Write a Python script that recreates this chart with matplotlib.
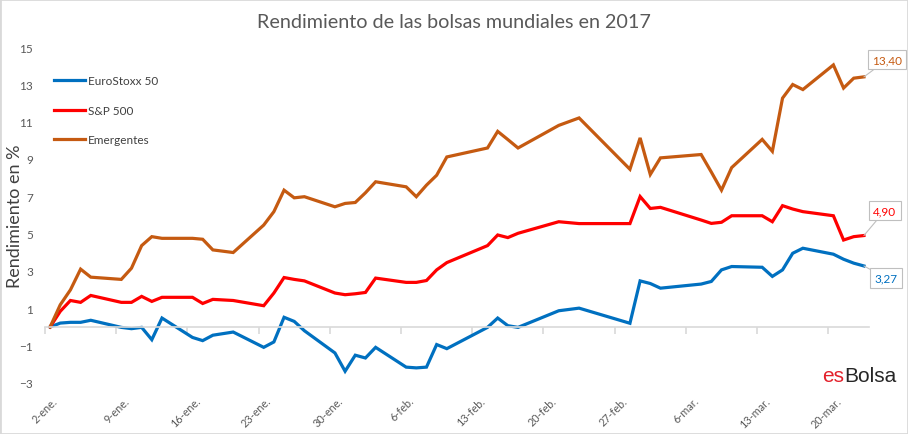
import matplotlib
matplotlib.use("Agg")
import matplotlib.pyplot as plt
import matplotlib.transforms as mtransforms
from matplotlib.patches import Rectangle
import pandas as pd

plt.rcParams['font.family'] = ['Lato', 'DejaVu Sans']

# datos (rendimiento acumulado en %)
fechas = ["2017-01-02", "2017-01-03", "2017-01-04", "2017-01-05", "2017-01-06",
          "2017-01-09", "2017-01-10", "2017-01-11", "2017-01-12", "2017-01-13",
          "2017-01-16", "2017-01-17", "2017-01-18", "2017-01-20",
          "2017-01-23", "2017-01-24", "2017-01-25", "2017-01-26", "2017-01-27",
          "2017-01-30", "2017-01-31", "2017-02-01", "2017-02-02", "2017-02-03",
          "2017-02-06", "2017-02-07", "2017-02-08", "2017-02-09", "2017-02-10",
          "2017-02-14", "2017-02-15", "2017-02-16", "2017-02-17",
          "2017-02-21", "2017-02-23", "2017-02-28", "2017-03-01", "2017-03-02",
          "2017-03-03", "2017-03-07", "2017-03-08", "2017-03-09", "2017-03-10",
          "2017-03-13", "2017-03-14", "2017-03-15", "2017-03-16", "2017-03-17",
          "2017-03-20", "2017-03-21", "2017-03-22", "2017-03-23"]
eurostoxx = [0, 0.21, 0.25, 0.25, 0.36,
             -0.02, -0.09, -0.02, -0.68, 0.48,
             -0.56, -0.73, -0.44, -0.27,
             -1.09, -0.80, 0.52, 0.30, -0.20,
             -1.39, -2.37, -1.51, -1.66, -1.09,
             -2.15, -2.19, -2.15, -0.94, -1.16,
             -0.02, 0.48, 0.07, -0.02,
             0.87, 1.01, 0.20, 2.47, 2.33,
             2.08, 2.30, 2.44, 3.06, 3.24,
             3.20, 2.71, 3.06, 3.95, 4.22,
             3.90, 3.63, 3.42, 3.27]
sp500 = [0, 0.84, 1.42, 1.32, 1.69,
         1.32, 1.32, 1.64, 1.37, 1.59,
         1.59, 1.26, 1.48, 1.42,
         1.14, 1.82, 2.65, 2.55, 2.47,
         1.82, 1.73, 1.78, 1.85, 2.62,
         2.39, 2.39, 2.49, 3.06, 3.45,
         4.36, 4.93, 4.79, 5.02,
         5.64, 5.54, 5.54, 6.99, 6.35,
         6.41, 5.73, 5.55, 5.61, 5.96,
         5.96, 5.64, 6.50, 6.32, 6.18,
         5.96, 4.66, 4.84, 4.90]
emergentes = [0, 1.19, 1.99, 3.10, 2.67,
              2.55, 3.15, 4.36, 4.84, 4.75,
              4.75, 4.70, 4.13, 3.99,
              5.46, 6.18, 7.33, 6.92, 6.98,
              6.44, 6.62, 6.67, 7.19, 7.78,
              7.51, 6.98, 7.60, 8.13, 9.11,
              9.59, 10.48, 10.04, 9.59,
              10.80, 11.20, 8.45, 10.13, 8.17,
              9.06, 9.24, 8.30, 7.33, 8.54,
              10.05, 9.41, 12.26, 12.99, 12.72,
              14.04, 12.80, 13.33, 13.40]

tick_fechas = ["2017-01-02", "2017-01-09", "2017-01-16", "2017-01-23", "2017-01-30",
               "2017-02-06", "2017-02-13", "2017-02-20", "2017-02-27", "2017-03-06",
               "2017-03-13", "2017-03-20"]
tick_labels = ["2-ene.", "9-ene.", "16-ene.", "23-ene.", "30-ene.", "6-feb.",
               "13-feb.", "20-feb.", "27-feb.", "6-mar.", "13-mar.", "20-mar."]

series = [("EuroStoxx 50", eurostoxx, "#0070C0"),
          ("S&P 500", sp500, "#FF0000"),
          ("Emergentes", emergentes, "#C55A11")]

x = pd.to_datetime(fechas)
ticks = pd.to_datetime(tick_fechas)
medio = pd.Timedelta(hours=12)

fig = plt.figure(figsize=(9.08, 4.35), dpi=100)
W, H = 908, 435
ax = fig.add_axes([45 / W, 1 - 384 / H, (869 - 45) / W, (384 - 48) / H])

for nombre, vals, col in series:
    ax.plot(x, vals, color=col, lw=2.3, label=nombre, solid_joinstyle='miter')

ax.set_xlim(x[0] - medio, x[-1] + medio)
ax.set_ylim(-3, 15)
ax.set_yticks(range(-3, 16, 2))

for s in ['top', 'right', 'left']:
    ax.spines[s].set_visible(False)
ax.spines['bottom'].set_position(('data', 0))
ax.spines['bottom'].set_color('#d9d9d9')
ax.spines['bottom'].set_linewidth(1.2)
ax.set_xticks(ticks - medio)
ax.tick_params(axis='x', length=5, width=1.2, color='#d9d9d9', labelbottom=False)
ax.tick_params(axis='y', length=0, pad=8.5, labelsize=8.5, labelcolor='#595959')

# etiquetas de fecha abajo, giradas
trans = mtransforms.blended_transform_factory(ax.transData, ax.transAxes)
off = mtransforms.ScaledTranslation(2 / 100, 0, fig.dpi_scale_trans)
for t, lab in zip(ticks, tick_labels):
    ax.text(t, -0.035, lab, transform=trans + off, rotation=45, ha='right', va='top',
            rotation_mode='anchor', fontsize=7.8, color='#595959')

ax.set_ylabel("Rendimiento en %", fontsize=13, color='#404040')
ax.yaxis.set_label_coords((23 - 45) / (869 - 45), 0.5)

leg = ax.legend(loc='upper left', bbox_to_anchor=(54 / W, 1 - 76 / H),
                bbox_transform=fig.transFigure, frameon=False, fontsize=8.5,
                handlelength=2.6, handletextpad=0.3, labelspacing=1.58,
                borderaxespad=0, borderpad=0)
for txt in leg.get_texts():
    txt.set_color('#404040')

# etiquetas del ultimo valor
desplaz = {"EuroStoxx 50": (22, -12), "S&P 500": (21, 25), "Emergentes": (23, 17)}
for nombre, vals, col in series:
    dx, dy = desplaz[nombre]
    ax.annotate(f"{vals[-1]:.2f}".replace('.', ','), xy=(x[-1], vals[-1]),
                xytext=(dx, dy), textcoords='offset pixels', ha='center', va='center',
                fontsize=8.5, color=col,
                bbox=dict(boxstyle='square,pad=0.35', fc='white', ec='#bfbfbf', lw=0.8),
                arrowprops=dict(arrowstyle='-', color='#bfbfbf', lw=0.8,
                                shrinkA=0, shrinkB=0))

fig.text(0.5, 1 - 23 / H, "Rendimiento de las bolsas mundiales en 2017",
         ha='center', va='center', fontsize=14.2, color='#595959')

t_es = fig.text(822 / W, 1 - 386 / H, "es", fontsize=15, color='#E3202A',
                family='Liberation Sans', ha='left', va='bottom')
ax.annotate("Bolsa", xy=(1, 0), xycoords=t_es, fontsize=15, color='#262626',
            family='Liberation Sans', ha='left', va='bottom', annotation_clip=False)

fig.patches.append(Rectangle((0, 0), 1, 1, transform=fig.transFigure, fill=False,
                             ec='#d9d9d9', lw=2))

fig.savefig("out.png", dpi=100)
